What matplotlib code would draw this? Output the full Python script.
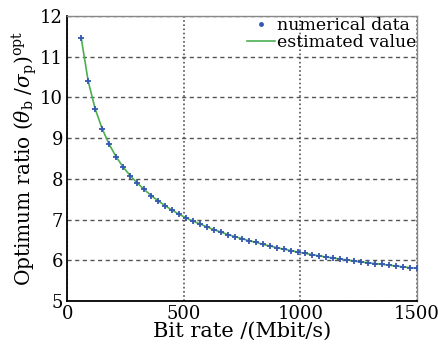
import matplotlib
matplotlib.use("Agg")
import matplotlib.pyplot as plt
from matplotlib.lines import Line2D

bit_rate = [60, 90, 120, 150, 180, 210, 240, 270, 300, 330, 360, 390, 420, 450, 480,
            510, 540, 570, 600, 630, 660, 690, 720, 750, 780, 810, 840, 870, 900, 930,
            960, 990, 1020, 1050, 1080, 1110, 1140, 1170, 1200, 1230, 1260, 1290, 1320,
            1350, 1380, 1410, 1440, 1470, 1500]
numerical = [11.47, 10.40, 9.72, 9.23, 8.85, 8.54, 8.29, 8.08, 7.90, 7.74, 7.59, 7.46,
             7.34, 7.23, 7.13, 7.04, 6.96, 6.89, 6.82, 6.75, 6.69, 6.63, 6.58, 6.53,
             6.48, 6.44, 6.39, 6.35, 6.31, 6.27, 6.24, 6.20, 6.17, 6.14, 6.11, 6.08,
             6.06, 6.03, 6.01, 5.98, 5.96, 5.94, 5.92, 5.90, 5.88, 5.86, 5.84, 5.82, 5.80]
estimated = list(numerical)

x_ticks = [0, 500, 1000, 1500]
y_ticks = [5, 6, 7, 8, 9, 10, 11, 12]

plt.rcParams['font.family'] = ['DejaVu Serif']
plt.rcParams['mathtext.fontset'] = 'dejavuserif'

fig = plt.figure(figsize=(4.39, 3.46), dpi=100)
ax = fig.add_axes([0.153, 0.130, 0.797, 0.824])

ax.plot(bit_rate, estimated, color='#4caf50', lw=1.2, zorder=2)
ax.plot(bit_rate, numerical, ls='none', marker='+', ms=5, mew=1.3, color='#3558b0',
        zorder=3)

ax.set_xlim(0, 1500)
ax.set_ylim(5, 12)
ax.set_xticks(x_ticks)
ax.set_yticks(y_ticks)
ax.tick_params(length=0, labelsize=13, pad=3)

ax.yaxis.grid(True, ls=(0, (3, 2.5)), color='#555555', lw=1.0)
ax.xaxis.grid(True, ls=(0, (1, 1.5)), color='#555555', lw=1.2)

for s in ['left', 'bottom']:
    ax.spines[s].set_linewidth(1.3)
    ax.spines[s].set_color('black')
for s in ['top', 'right']:
    ax.spines[s].set_linewidth(1.0)
    ax.spines[s].set_color('#888888')

ax.set_xlabel('Bit rate /(Mbit/s)', fontsize=15, labelpad=-1)
ax.set_ylabel(r'Optimum ratio $(\theta_{\rm b}\ /\sigma_{\rm p})^{\rm opt}$', fontsize=14.5, labelpad=1)

h_num = Line2D([], [], ls='none', marker='o', ms=2.5, color='#3558b0')
h_est = Line2D([], [], color='#4caf50', lw=1.2)
ax.legend([h_num, h_est], ['numerical data', 'estimated value'], loc='upper right',
          frameon=False, fontsize=12.5, handlelength=1.6, handletextpad=0.1,
          borderaxespad=0.0, labelspacing=0.0, borderpad=0.05)

fig.savefig('out.png', dpi=100)
